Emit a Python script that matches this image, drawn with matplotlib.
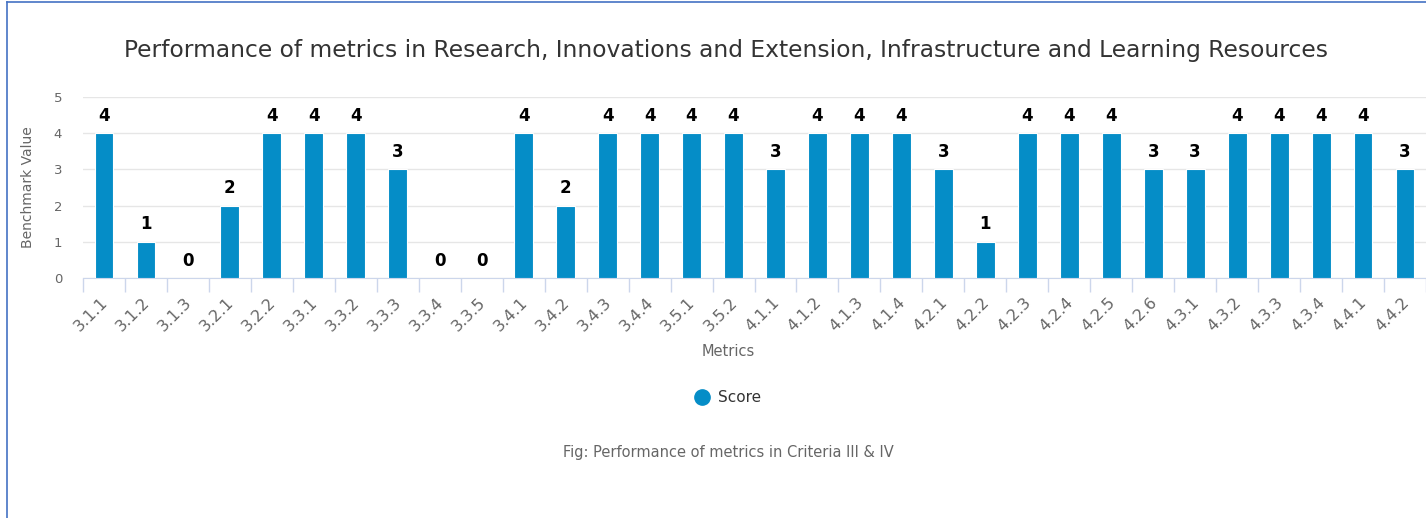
import numpy as np
import matplotlib
matplotlib.use("Agg")
import matplotlib.pyplot as plt
import matplotlib.transforms as mtransforms
from matplotlib.lines import Line2D

plt.rcParams['font.family'] = ['DejaVu Sans']

metrics = ['3.1.1', '3.1.2', '3.1.3', '3.2.1', '3.2.2', '3.3.1', '3.3.2', '3.3.3',
           '3.3.4', '3.3.5', '3.4.1', '3.4.2', '3.4.3', '3.4.4', '3.5.1', '3.5.2',
           '4.1.1', '4.1.2', '4.1.3', '4.1.4', '4.2.1', '4.2.2', '4.2.3', '4.2.4',
           '4.2.5', '4.2.6', '4.3.1', '4.3.2', '4.3.3', '4.3.4', '4.4.1', '4.4.2']
scores = [4, 1, 0, 2, 4, 4, 4, 3, 0, 0, 4, 2, 4, 4, 4, 4,
          3, 4, 4, 4, 3, 1, 4, 4, 4, 3, 3, 4, 4, 4, 4, 3]

bar_color = '#058DC7'
grey = '#666666'

fig = plt.figure(figsize=(14.26, 5.18), dpi=100)
ax = fig.add_axes([83/1426, 1 - 278/518, 1343/1426, 181/518])

x = np.arange(len(metrics))
bars = ax.bar(x, scores, width=0.45, color=bar_color, edgecolor='white', linewidth=0.8, zorder=3)
ax.bar_label(bars, padding=6, fontsize=12, fontweight='bold', color='black')

ax.set_xlim(-0.5, len(metrics) - 0.5)
ax.set_ylim(0, 5)
ax.set_yticks(range(6))
ax.yaxis.grid(True, color='#e6e6e6', linewidth=1, zorder=0)
ax.tick_params(axis='y', length=0, labelsize=9.5, labelcolor=grey, pad=15)

ax.set_xticks(x)
ax.set_xticklabels(metrics, rotation=45, ha='right', rotation_mode='anchor',
                   fontsize=11.5, color=grey)
ax.tick_params(axis='x', length=0, pad=12)
shift = mtransforms.ScaledTranslation(-4/100, 0, fig.dpi_scale_trans)
for lbl in ax.get_xticklabels():
    lbl.set_transform(lbl.get_transform() + shift)
ax.set_xticks(np.arange(-0.5, len(metrics)), minor=True)
ax.tick_params(axis='x', which='minor', length=10, color='#ccd6eb', width=1)

for s in ['top', 'right', 'left']:
    ax.spines[s].set_visible(False)
ax.spines['bottom'].set_color('#ccd6eb')

ax.set_ylabel('Benchmark Value', fontsize=10, color=grey)
ax.yaxis.set_label_coords((35 - 83) / 1343, 0.5)
ax.set_xlabel('Metrics', fontsize=10.5, color=grey)
ax.xaxis.set_label_coords((728 - 83) / 1343, (278 - 351) / 181)
ax.xaxis.label.set_va('center')

fig.text(726/1426, 1 - 50/518, 'Performance of metrics in Research, Innovations and Extension, '
         'Infrastructure and Learning Resources',
         ha='center', va='center', fontsize=16.8, color='#333333')

handle = Line2D([], [], marker='o', linestyle='none', markersize=11,
                markerfacecolor=bar_color, markeredgecolor=bar_color)
fig.legend([handle], ['Score'], loc='center', bbox_to_anchor=(724/1426, 1 - 398/518),
           frameon=False, fontsize=11, handletextpad=0.1, labelcolor='#333333')

fig.text(728/1426, 1 - 452/518, 'Fig: Performance of metrics in Criteria III & IV',
         ha='center', va='center', fontsize=10.5, color=grey)

# outer frame edges (left and top)
fig.add_artist(Line2D([7/1426, 7/1426], [0, 1 - 2/518], color='#4472c4', linewidth=1.2,
                      transform=fig.transFigure))
fig.add_artist(Line2D([7/1426, 1], [1 - 2/518, 1 - 2/518], color='#4472c4', linewidth=1.2,
                      transform=fig.transFigure))

fig.savefig('out.png', dpi=100)
